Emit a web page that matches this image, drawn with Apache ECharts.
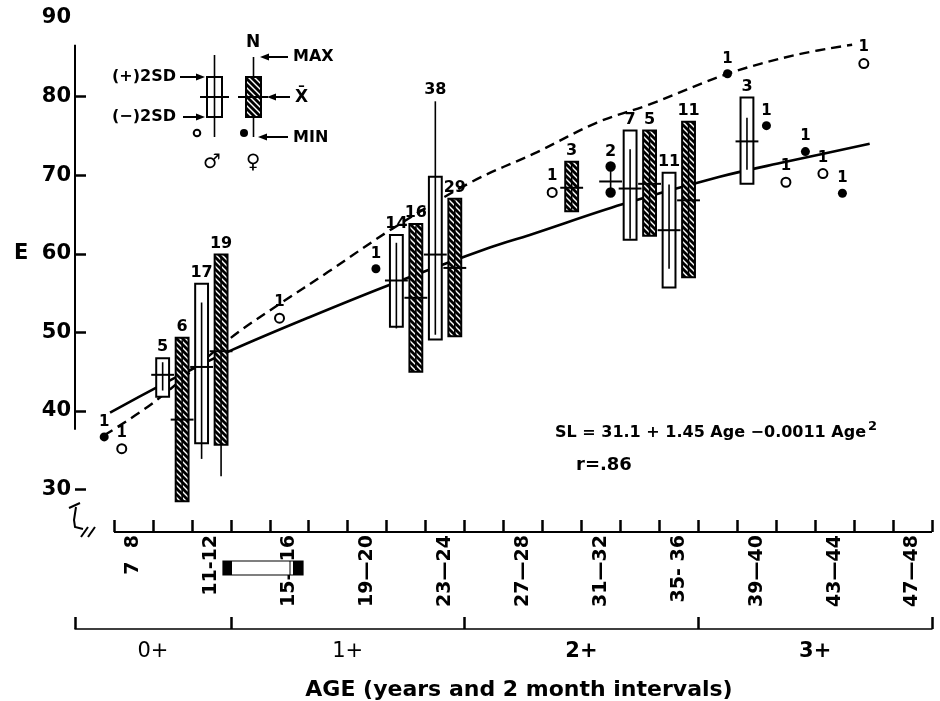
<!DOCTYPE html>
<html><head><meta charset="utf-8">
<script src="https://cdn.jsdelivr.net/npm/echarts@6/dist/echarts.min.js"></script>
<style>html,body{margin:0;padding:0;background:#fff}#c{width:940px;height:701px}</style>
</head><body><div id="c"></div>
<script>
// ---------- DATA (months of age, standard length) ----------
const boxMonth = [8.5, 9.5, 10.5, 11.5, 20.5, 21.5, 22.5, 23.5, 29.5, 31.5, 32.5, 33.5, 34.5, 35.5, 38.5];
const boxN     = [5, 6, 17, 19, 14, 16, 38, 29, 3, 2, 7, 5, 11, 11, 3];
const boxSex   = ['m','f','m','f','m','f','m','f','f','f','m','f','m','f','m'];
const boxMean  = [44.6, 38.9, 45.6, 47.6, 56.6, 54.4, 59.9, 58.2, 68.4, 69.2, 68.3, 68.9, 63.0, 66.8, 74.3];
const boxUpper = [46.7, 49.3, 56.2, 59.9, 62.4, 63.8, 69.8, 67.0, 71.7, null, 75.7, 75.7, 70.3, 76.8, 79.9];
const boxLower = [41.8, 28.5, 35.9, 35.7, 50.7, 45.0, 49.1, 49.5, 65.4, null, 61.8, 62.3, 55.7, 57.0, 68.9];
const boxMax   = [46.2, 49.0, 53.8, 59.5, 61.4, 63.5, 79.4, 66.8, 71.5, 71.1, 73.3, 75.5, 68.8, 76.5, 77.3];
const boxMin   = [42.6, 28.8, 33.9, 31.7, 50.5, 45.2, 49.7, 49.7, 65.6, 67.8, 61.9, 62.5, 58.1, 57.2, 70.7];

const singleMonth = [5.5, 6.4, 14.5, 19.45, 28.5, 37.5, 39.5, 40.5, 41.5, 42.4, 43.4, 44.5];
const singleValue = [36.7, 35.2, 51.8, 58.1, 67.8, 82.9, 76.3, 69.1, 73.0, 70.2, 67.7, 84.2];
const singleSex   = ['f','m','m','f','m','f','f','m','f','m','f','m'];

const fitMonth  = [5.8, 8.2, 9.75, 12.1, 16.0, 20.2, 25.3, 27.35, 32.1, 37.1, 40.5, 44.8];
const fitValue  = [39.8, 43.0, 45.0, 47.8, 51.9, 56.1, 60.8, 62.4, 66.3, 69.8, 71.7, 74.0];
const dashMonth = [5.5, 8.1, 12.0, 14.5, 17.0, 20.3, 24.4, 27.7, 30.8, 33.5, 37.5, 41.0, 43.9];
const dashValue = [36.9, 41.2, 49.3, 53.6, 57.7, 63.2, 69.2, 72.9, 76.7, 79.0, 82.9, 85.3, 86.6];

const monthTicks     = [6,8,10,12,14,16,18,20,22,24,26,28,30,32,34,36,38,40,42,44,46,48];
const monthLabelAt   = [7, 11, 15, 19, 23, 27, 31, 35, 39, 43, 47];
const monthLabelText = ['7  8','11-12','15—16','19—20','23—24','27—28','31—32','35- 36','39—40','43—44','47—48'];
const ageEdges    = [4, 12, 24, 36, 48];
const ageLabelAt  = [8, 18, 30, 42];
const ageLabelTxt = ['0+', '1+', '2+', '3+'];
const yTickValues  = [30, 40, 50, 60, 70, 80];
const yLabelValues = [30, 40, 50, 60, 70, 80, 90];
const yAxisLineSpan = [37.6, 86.6];

// ---------- styling helpers ----------
const XMIN = 4, XMAX = 48, YMIN = 24.6, YMAX = 90;
const F = '"DejaVu Sans", sans-serif';
function makeHatch(){
  const s = 6, cv = document.createElement('canvas'); cv.width = s; cv.height = s;
  const g = cv.getContext('2d'); g.fillStyle = '#fff'; g.fillRect(0,0,s,s);
  g.strokeStyle = '#000'; g.lineWidth = 2.8;
  for (const c of [-s, 0, s]) { g.beginPath(); g.moveTo(c-1,-1); g.lineTo(c+s+1, s+1); g.stroke(); }
  return cv;
}
const hatchCanvas = makeHatch();
const hatch = () => ({ type:'pattern', image: hatchCanvas, repeat: 'repeat' });

const boxData = boxMonth.map((m,i)=>[m, boxMean[i], boxUpper[i]==null?'-':boxUpper[i], boxLower[i]==null?'-':boxLower[i], boxMax[i], boxMin[i], boxN[i], boxSex[i]==='f'?1:0]);

function renderBox(params, api){
  const x = api.value(0);
  const c = api.coord([x, api.value(1)]);
  const w = api.size([0.66, 0])[0];
  const up = api.value(2), lo = api.value(3);
  const female = api.value(7) === 1;
  const pMax = api.coord([x, api.value(4)]), pMin = api.coord([x, api.value(5)]);
  const ch = [];
  let top = pMax[1];
  if (isFinite(up) && isFinite(lo)) {
    const pU = api.coord([x, up]), pL = api.coord([x, lo]);
    ch.push({type:'rect', shape:{x:c[0]-w/2, y:pU[1], width:w, height:pL[1]-pU[1]},
      style:{fill: female ? hatch() : '#fff', stroke:'#000', lineWidth:2}});
    top = Math.min(top, pU[1]);
  }
  ch.push({type:'line', shape:{x1:c[0], y1:pMax[1], x2:c[0], y2:pMin[1]}, style:{stroke:'#000', lineWidth:1.6}});
  ch.push({type:'line', shape:{x1:c[0]-w/2-5, y1:c[1], x2:c[0]+w/2+5, y2:c[1]}, style:{stroke:'#000', lineWidth:2}});
  if (!(isFinite(up) && isFinite(lo))) {
    for (const p of [pMax, pMin]) ch.push({type:'circle', shape:{cx:c[0], cy:p[1], r:4.3},
      style:{fill: female ? '#000' : '#fff', stroke:'#000', lineWidth:1.8}});
    top = pMax[1] - 4;
  }
  ch.push({type:'text', x:c[0], y:top-3, style:{text:String(api.value(6)), align:'center', verticalAlign:'bottom',
    font:'bold 16px ' + F, fill:'#000'}});
  return {type:'group', children: ch};
}

// ---------- key (legend) graphics ----------
function arrow(x1, y, x2){ // head at x2
  const d = x2 > x1 ? 1 : -1;
  return [
    {type:'line', shape:{x1:x1, y1:y, x2:x2 - d*6, y2:y}, style:{stroke:'#000', lineWidth:2}},
    {type:'polygon', shape:{points:[[x2,y],[x2-d*9,y-3.5],[x2-d*9,y+3.5]]}, style:{fill:'#000'}}
  ];
}
function txt(x, y, t, size, align, weight){
  return {type:'text', x:x, y:y, style:{text:t, font:(weight||'bold')+' '+size+'px '+F, fill:'#000', align:align||'left', verticalAlign:'middle'}};
}
const keyEls = [].concat(
  [
    {type:'line', shape:{x1:214.5, y1:55, x2:214.5, y2:137}, style:{stroke:'#000', lineWidth:1.6}},
    {type:'rect', shape:{x:207, y:77, width:15, height:40}, style:{fill:'#fff', stroke:'#000', lineWidth:2}},
    {type:'line', shape:{x1:214.5, y1:77, x2:214.5, y2:117}, style:{stroke:'#000', lineWidth:1.6}},
    {type:'line', shape:{x1:200, y1:97, x2:229, y2:97}, style:{stroke:'#000', lineWidth:2}},
    {type:'line', shape:{x1:253.5, y1:57, x2:253.5, y2:137}, style:{stroke:'#000', lineWidth:1.6}},
    {type:'rect', shape:{x:246, y:77, width:15, height:40}, style:{fill:hatch(), stroke:'#000', lineWidth:2}},
    {type:'line', shape:{x1:238, y1:97, x2:268, y2:97}, style:{stroke:'#000', lineWidth:2}},
    {type:'circle', shape:{cx:197, cy:133, r:3.3}, style:{fill:'#fff', stroke:'#000', lineWidth:2}},
    {type:'circle', shape:{cx:244, cy:133, r:4}, style:{fill:'#000'}},
    txt(212, 163, '♂', 20, 'center'),
    txt(253, 163, '♀', 20, 'center'),
    txt(253, 43, 'N', 17, 'center'),
    txt(293, 57, 'MAX', 16, 'left'),
    txt(295, 98, 'X̄', 17, 'left'),
    txt(293, 138, 'MIN', 16, 'left'),
    txt(176, 77, '(+)2SD', 16, 'right'),
    txt(176, 117, '(−)2SD', 16, 'right')
  ],
  arrow(288, 57, 260), arrow(290, 97, 267), arrow(288, 137, 258),
  arrow(180, 77, 205), arrow(183, 117, 205)
);

const decoEls = [
  // axis break mark
  {type:'polyline', shape:{points:[[69,508],[80,503]]}, style:{stroke:'#000', lineWidth:2}},
  {type:'polyline', shape:{points:[[76,507],[74,520],[75,527],[83,529]]}, style:{stroke:'#000', lineWidth:2, fill:null}},
  {type:'line', shape:{x1:81, y1:537, x2:88, y2:527}, style:{stroke:'#000', lineWidth:2}},
  {type:'line', shape:{x1:88, y1:537, x2:95, y2:527}, style:{stroke:'#000', lineWidth:2}},
  // scan artefact bar below axis
  {type:'rect', z:100, shape:{x:223, y:561, width:80, height:14}, style:{fill:'#fff', stroke:'#000', lineWidth:1.2}},
  {type:'rect', z:101, shape:{x:223, y:561, width:9, height:14}, style:{fill:'#000'}},
  {type:'rect', z:101, shape:{x:293, y:561, width:10, height:14}, style:{fill:'#000'}},
  {type:'line', z:101, shape:{x1:290, y1:561, x2:290, y2:575}, style:{stroke:'#000', lineWidth:1}},
  // equation
  {type:'text', x:555, y:433, style:{text:'SL = 31.1 + 1.45 Age −0.0011 Age{s|2}', font:'bold 16px '+F, fill:'#000', verticalAlign:'middle',
     rich:{s:{font:'bold 13px '+F, verticalAlign:'top', padding:[0,0,12,2]}}}},
  {type:'text', x:576, y:465, style:{text:'r=.86', font:'bold 18px '+F, fill:'#000', verticalAlign:'middle'}},
  // x axis title
  {type:'text', x:519, y:690, style:{text:'AGE (years and 2 month intervals)', font:'bold 22px '+F, fill:'#000', align:'center', verticalAlign:'middle'}},
  // y axis name
  {type:'text', x:14, y:254, style:{text:'E', font:'bold 21px '+F, fill:'#000', verticalAlign:'middle'}}
];

const chart = echarts.init(document.getElementById('c'), null, {renderer:'canvas'});
chart.setOption({
  animation:false,
  backgroundColor:'#fff',
  grid:{left:75, right:8, top:18, bottom:169},
  xAxis:[
    {type:'value', min:XMIN, max:XMAX, position:'bottom',
     axisLine:{show:false}, splitLine:{show:false},
     axisTick:{show:true, inside:true, length:12, customValues: monthTicks, lineStyle:{color:'#000', width:2.5}},
     axisLabel:{customValues: monthLabelAt, rotate:90, margin:3, color:'#000', fontFamily:F, fontWeight:'bold', fontSize:19,
       formatter:(v)=>{ const i = monthLabelAt.indexOf(Math.round(v)); return i<0 ? '' : monthLabelText[i]; }}},
    {type:'value', min:XMIN, max:XMAX, position:'bottom', offset:97,
     axisLine:{show:true, lineStyle:{color:'#000', width:1.5}}, splitLine:{show:false},
     axisTick:{show:true, inside:true, length:12, customValues: ageEdges, lineStyle:{color:'#000', width:2.5}},
     axisLabel:{customValues: ageLabelAt, margin:12, color:'#000', fontFamily:F, fontSize:21,
       formatter:(v)=>{ const i = ageLabelAt.indexOf(Math.round(v)); if (i<0) return ''; return i>=2 ? '{b|'+ageLabelTxt[i]+'}' : ageLabelTxt[i]; },
       rich:{b:{fontWeight:'bold', fontSize:21, fontFamily:F, color:'#000'}}}}
  ],
  yAxis:{type:'value', min:YMIN, max:YMAX,
    axisLine:{show:false}, splitLine:{show:false},
    axisTick:{show:true, inside:true, length:11, customValues: yTickValues, lineStyle:{color:'#000', width:2.5}},
    axisLabel:{customValues: yLabelValues, margin:4, color:'#000', fontFamily:F, fontWeight:'bold', fontSize:21}},
  graphic: keyEls.concat(decoEls),
  series:[
    {type:'line', name:'yaxis', data: yAxisLineSpan.map(v=>[XMIN, v]), showSymbol:false, silent:true, z:1,
     lineStyle:{color:'#000', width:2}},
    {type:'line', name:'xaxis', data: [[monthTicks[0], YMIN], [monthTicks[monthTicks.length-1], YMIN]], showSymbol:false, silent:true, clip:false, z:1,
     lineStyle:{color:'#000', width:2}},
    {type:'line', name:'fit', data: fitMonth.map((m,i)=>[m, fitValue[i]]), smooth:0.35, showSymbol:false, z:2,
     lineStyle:{color:'#000', width:2.6}},
    {type:'line', name:'dash', data: dashMonth.map((m,i)=>[m, dashValue[i]]), smooth:0.35, showSymbol:false, z:2,
     lineStyle:{color:'#000', width:2.4, type:[10,6]}},
    {type:'custom', name:'boxes', data: boxData, renderItem: renderBox, clip:false, z:3},
    {type:'scatter', name:'singles', z:4,
     data: singleMonth.map((m,i)=>({value:[m, singleValue[i]], itemStyle:{color: singleSex[i]==='f' ? '#000' : '#fff', borderColor:'#000', borderWidth: singleSex[i]==='f'?0:2, opacity:1}})),
     symbol:'circle', symbolSize:9, itemStyle:{opacity:1},
     label:{show:true, position:'top', distance:3, formatter:'1', color:'#000', opacity:1, fontFamily:F, fontWeight:'bold', fontSize:15}}
  ]
});
</script></body></html>
